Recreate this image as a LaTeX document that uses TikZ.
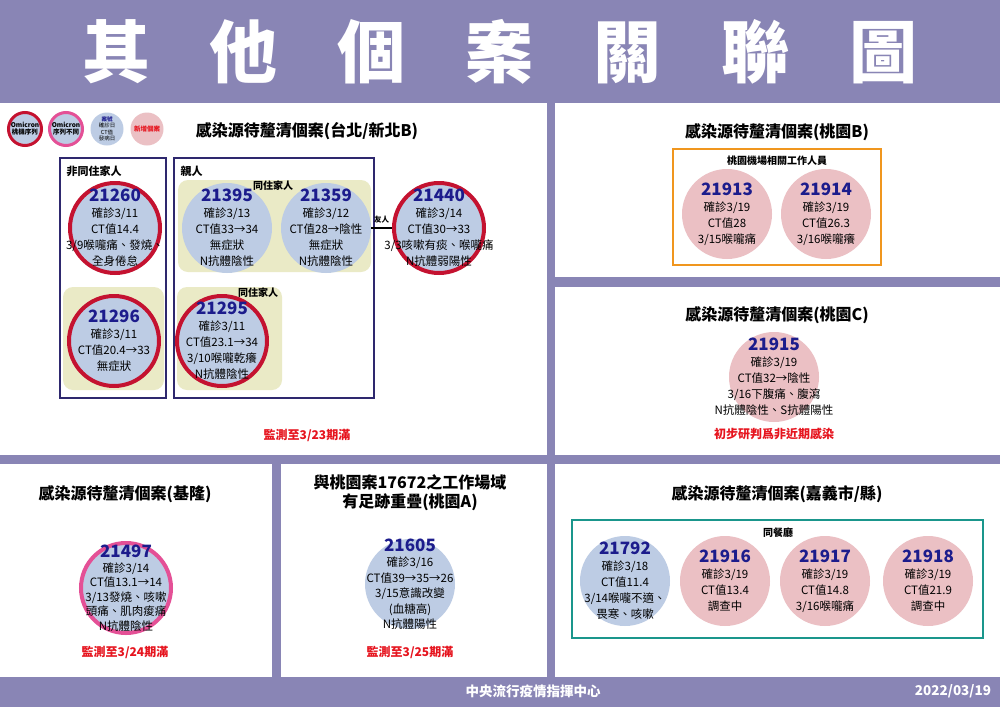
\documentclass[tikz,border=0pt]{standalone}
\usepackage{fontspec}
\setmainfont{Noto Sans CJK TC}
\definecolor{bgpurple}{RGB}{137,133,181}
\definecolor{cblue}{RGB}{189,204,228}
\definecolor{cpink}{RGB}{235,192,196}
\definecolor{cyellow}{RGB}{234,234,198}
\definecolor{navybox}{RGB}{46,40,110}
\definecolor{numc}{RGB}{28,28,140}
\definecolor{ringred}{RGB}{196,18,48}
\definecolor{ringpink}{RGB}{228,80,150}
\definecolor{orangebox}{RGB}{240,150,30}
\definecolor{tealbox}{RGB}{26,150,140}
\definecolor{redtxt}{RGB}{230,20,30}
\newcommand\cnum[1]{{\fontsize{17}{16}\selectfont\bfseries\color{numc}#1}}
% [#1 text options] #2 name, #3 position, #4 circle style, #5 text
\newcommand\casenode[5][]{%
  \node[#4] (#2) at (#3) {};
  \node[casetxt,#1] (#2t) at (#3) {#5};}
\begin{document}
\begin{tikzpicture}[x=1pt,y=-1pt,
  panel/.style={fill=white,draw=none},
  casec/.style={circle,minimum size=90pt,inner sep=0pt},
  casetxt/.style={inner sep=0pt,align=center,font=\fontsize{11.5}{16}\selectfont},
  bluec/.style={casec,fill=cblue},
  pinkc/.style={casec,fill=cpink},
  rred/.style={draw=ringred,line width=4pt},
  rpink/.style={draw=ringpink,line width=4pt},
  ptitle/.style={font=\fontsize{16}{19}\selectfont\bfseries,align=center},
  redline/.style={font=\fontsize{12}{14}\selectfont\bfseries,text=redtxt},
  grp/.style={font=\fontsize{11}{13}\selectfont\bfseries},
  sgrp/.style={font=\fontsize{10}{12}\selectfont\bfseries},
  yel/.style={fill=cyellow,rounded corners=10pt,draw=none},
  legc/.style={circle,minimum size=33pt,inner sep=0pt},
  legt/.style={inner sep=0pt,align=center,font=\fontsize{6.5}{7}\selectfont\bfseries},
  foot/.style={text=white,font=\fontsize{13.5}{15}\selectfont\bfseries},
]
\useasboundingbox (0,0) rectangle (1000,707);
\fill[bgpurple] (0,0) rectangle (1000,707);
% title
\node[text=white,font=\fontsize{68}{68}\selectfont\bfseries] (title) at (500,52)
  {其\hspace{60pt}他\hspace{60pt}個\hspace{60pt}案\hspace{60pt}關\hspace{60pt}聯\hspace{60pt}圖};
% panels
\fill[panel] (0,103) rectangle (547,455);
\fill[panel] (555,103) rectangle (1000,277);
\fill[panel] (555,287) rectangle (1000,455);
\fill[panel] (0,464) rectangle (272,677);
\fill[panel] (281,464) rectangle (547,677);
\fill[panel] (555,464) rectangle (1000,677);
% footer
\node[foot] (foot1) at (533,691) {中央流行疫情指揮中心};
\node[foot] (foot2) at (953,691) {2022/03/19};

% legend
\node[legc,fill=cblue,draw=ringred,line width=3pt] (lg1) at (25,129) {};
\node[legt] (lg1t) at (25,129) {Omicron\\桃機序列};
\node[legc,fill=cblue,draw=ringpink,line width=3pt] (lg2) at (66,129) {};
\node[legt] (lg2t) at (66,129) {Omicron\\序列不同};
\node[legc,fill=cblue] (lg3) at (107,129) {};
\node[legt,font=\fontsize{5.5}{6.5}\selectfont] (lg3t) at (107,129) {{\color{numc}\bfseries 案號}\\確診日\\CT值\\發病日};
\node[legc,fill=cpink] (lg4) at (147,129) {};
\node[legt,text=redtxt] (lg4t) at (147,129) {新增個案};

% top-left panel
\node[ptitle] (t1) at (307,131) {感染源待釐清個案(台北/新北B)};
\draw[navybox,line width=2pt] (60,158) rectangle (166,398);
\draw[navybox,line width=2pt] (174,158) rectangle (374,398);
\node[grp,anchor=west] (g1) at (63,171) {非同住家人};
\node[grp,anchor=west] (g2) at (177,171) {親人};
\fill[yel] (178,180) rectangle (371,272);
\fill[yel] (63,287) rectangle (164,390);
\fill[yel] (177,287) rectangle (282,390);
\node[sgrp] (g3) at (273,186) {同住家人};
\node[sgrp] (g4) at (258,293) {同住家人};

\casenode{c21260}{115,228}{bluec,rred}{\cnum{21260}\\確診3/11\\CT值14.4\\3/9喉嚨痛、發燒、\\全身倦怠}
\casenode{c21395}{227,228}{bluec}{\cnum{21395}\\確診3/13\\CT值33→34\\無症狀\\N抗體陰性}
\casenode{c21359}{326,228}{bluec}{\cnum{21359}\\確診3/12\\CT值28→陰性\\無症狀\\N抗體陰性}
\casenode{c21440}{439,228}{bluec,rred}{\cnum{21440}\\確診3/14\\CT值30→33\\3/3咳嗽有痰、喉嚨痛\\N抗體弱陽性}
\casenode{c21296}{114,341}{bluec,rred}{\cnum{21296}\\確診3/11\\CT值20.4→33\\無症狀}
\casenode{c21295}{222,341}{bluec,rred}{\cnum{21295}\\確診3/11\\CT值23.1→34\\3/10喉嚨乾癢\\N抗體陰性}
\draw[line width=1.5pt] (c21359) -- (c21440) node[midway,above=1pt,font=\fontsize{7.5}{8}\selectfont\bfseries] (fr) {友人};
\node[redline] (m1) at (307,435) {監測至3/23期滿};

% Taoyuan B
\node[ptitle] (t2) at (777,132) {感染源待釐清個案(桃園B)};
\draw[orangebox,line width=2pt] (673,149) rectangle (881,265);
\node[sgrp] (g5) at (777,161) {桃園機場相關工作人員};
\casenode{c21913}{727,214}{pinkc}{\cnum{21913}\\確診3/19\\CT值28\\3/15喉嚨痛}
\casenode{c21914}{826,214}{pinkc}{\cnum{21914}\\確診3/19\\CT值26.3\\3/16喉嚨癢}

% Taoyuan C
\node[ptitle] (t3) at (777,315) {感染源待釐清個案(桃園C)};
\casenode{c21915}{774,377}{pinkc}{\cnum{21915}\\確診3/19\\CT值32→陰性\\3/16下腹痛、腹瀉\\N抗體陰性、S抗體陽性}
\node[redline] (m2) at (774,434) {初步研判爲非近期感染};

% Keelung
\node[ptitle] (t4) at (125,494) {感染源待釐清個案(基隆)};
\casenode[font=\fontsize{11.5}{14.5}\selectfont]{c21497}{126,588}{bluec,rpink}{\cnum{21497}\\確診3/14\\CT值13.1→14\\3/13發燒、咳嗽\\頭痛、肌肉痠痛\\N抗體陰性}
\node[redline] (m3) at (125,652) {監測至3/24期滿};

% Taoyuan A
\node[ptitle] (t5) at (410,493) {與桃園案17672之工作場域\\有足跡重疊(桃園A)};
\casenode[font=\fontsize{11.5}{15.5}\selectfont]{c21605}{410,584}{bluec}{\cnum{21605}\\確診3/16\\CT值39→35→26\\3/15意識改變\\(血糖高)\\N抗體陽性}
\node[redline] (m4) at (410,652) {監測至3/25期滿};

% Chiayi
\node[ptitle] (t6) at (777,494) {感染源待釐清個案(嘉義市/縣)};
\draw[tealbox,line width=2pt] (572,520) rectangle (983,638);
\node[sgrp] (g6) at (778,533) {同餐廳};
\casenode{c21792}{625,581}{bluec}{\cnum{21792}\\確診3/18\\CT值11.4\\3/14喉嚨不適、\\畏寒、咳嗽}
\casenode{c21916}{725,581}{pinkc}{\cnum{21916}\\確診3/19\\CT值13.4\\調查中}
\casenode{c21917}{825,581}{pinkc}{\cnum{21917}\\確診3/19\\CT值14.8\\3/16喉嚨痛}
\casenode{c21918}{928,581}{pinkc}{\cnum{21918}\\確診3/19\\CT值21.9\\調查中}
\end{tikzpicture}
\end{document}
